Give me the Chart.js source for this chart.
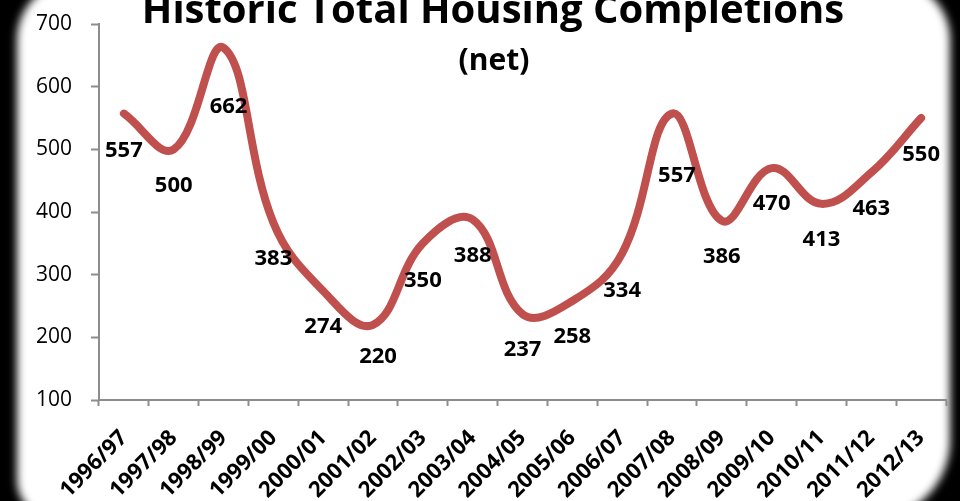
<!DOCTYPE html>
<html>
<head>
<meta charset="utf-8">
<script src="https://cdn.jsdelivr.net/npm/chart.js@4.4.1/dist/chart.umd.min.js"></script>
<style>
  html, body { margin: 0; padding: 0; background: #000; }
  #wrap { width: 960px; height: 501px; }
</style>
</head>
<body>
<div id="wrap"><canvas id="chart" width="960" height="501"></canvas></div>
<script>
// financial years
const years = ["1996/97", "1997/98", "1998/99", "1999/00", "2000/01", "2001/02", "2002/03", "2003/04", "2004/05",
  "2005/06", "2006/07", "2007/08", "2008/09", "2009/10", "2010/11", "2011/12", "2012/13"];
// net completions
const completions = [557, 500, 662, 383, 274, 220, 350, 388, 237, 258, 334, 557, 386, 470, 413, 463, 550];
const yTicks = [100, 200, 300, 400, 500, 600, 700];

// where each value label sits relative to its point (px)
const labelDx = [0, 0, 5, 0, 0, 5, 0, 0, 0, 0, 0, 5, 0, 0, 0, 0, 0];
const labelDy = [37, 36, 59, 36, 36, 32, 37, 36, 36, 36, 37, 62, 36, 36, 36, 36, 37];

const font = '"Open Sans", "DejaVu Sans", sans-serif';
const axisGrey = "#8c8c8c";

// black surround + white rounded panel with soft edge
const panelBg = {
  id: "panelBg",
  beforeDraw(chart) {
    const ctx = chart.ctx;
    ctx.save();
    ctx.fillStyle = "#000";
    ctx.fillRect(0, 0, chart.width, chart.height);
    ctx.filter = "blur(4px)";
    ctx.fillStyle = "#fff";
    ctx.beginPath();
    ctx.roundRect(17, -20, 933, 540, [60, 60, 80, 40]);
    ctx.fill();
    ctx.restore();
  }
};

// value labels + titles
const overlay = {
  id: "overlay",
  afterDatasetsDraw(chart) {
    const ctx = chart.ctx;
    const meta = chart.getDatasetMeta(0);
    ctx.save();
    ctx.fillStyle = "#000";
    ctx.font = "bold 22px " + font;
    ctx.textAlign = "center";
    ctx.textBaseline = "middle";
    meta.data.forEach((pt, i) => {
      ctx.fillText(String(completions[i]), pt.x + labelDx[i], pt.y + labelDy[i]);
    });
    ctx.textBaseline = "alphabetic";
    ctx.font = "bold 40px " + font;
    ctx.fillText("Historic Total Housing Completions", 493, 23);
    ctx.font = "bold 30px " + font;
    ctx.fillText("(net)", 494, 70);
    ctx.restore();
  }
};

const ctx = document.getElementById("chart").getContext("2d");
const chart = new Chart(ctx, {
  type: "line",
  data: {
    labels: years,
    datasets: [
      {
        label: "Completions",
        data: completions,
        borderColor: "#c0504d",
        borderWidth: 8,
        borderCapStyle: "round",
        borderJoinStyle: "round",
        tension: 0.4,
        pointRadius: 0,
        fill: false,
      },
    ],
  },
  plugins: [panelBg, overlay],
  options: {
    responsive: false,
    animation: false,
    layout: { padding: { left: 0, right: 14, top: 24, bottom: 0 } },
    plugins: {
      legend: { display: false },
      tooltip: { enabled: false },
      title: { display: false },
    },
    scales: {
      x: {
        type: "category",
        offset: true,
        afterFit: (s) => { s.height = 101; s.paddingLeft = 0; s.paddingRight = 0; },
        grid: {
          offset: true,
          drawOnChartArea: false,
          tickLength: 6,
          tickColor: axisGrey,
          tickWidth: 2,
        },
        border: { color: axisGrey, width: 2 },
        ticks: {
          maxRotation: 45,
          minRotation: 45,
          padding: 19,
          color: "#000",
          font: { family: font, size: 22, weight: "bold" },
          autoSkip: false,
        },
      },
      y: {
        min: 100,
        max: 700,
        afterFit: (s) => { s.width = 99; s.paddingTop = 0; s.paddingBottom = 0; },
        afterBuildTicks: (s) => { s.ticks = yTicks.map((v) => ({ value: v })); },
        grid: {
          drawOnChartArea: false,
          tickLength: 8,
          tickColor: axisGrey,
          tickWidth: 2,
        },
        border: { color: axisGrey, width: 2 },
        ticks: {
          padding: 19,
          color: "#000",
          font: { family: font, size: 21 },
        },
      },
    },
  },
});
</script>
</body>
</html>
